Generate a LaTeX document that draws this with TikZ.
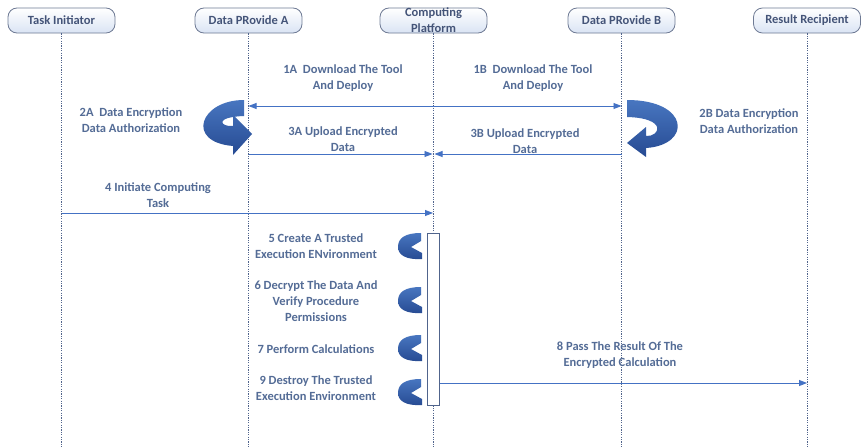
\documentclass[tikz,border=0pt]{standalone}
\usepackage{fontspec}
\setmainfont{Carlito}
\usetikzlibrary{arrows.meta}
\definecolor{linec}{RGB}{68,114,196}
\definecolor{txtc}{RGB}{84,108,150}
\definecolor{hdrtxt}{RGB}{68,84,120}
\definecolor{hdrdraw}{RGB}{110,122,148}
\definecolor{hdrfill}{RGB}{218,228,244}
\definecolor{lifec}{RGB}{80,100,140}
\definecolor{ribtop}{RGB}{72,118,192}
\definecolor{ribbot}{RGB}{38,74,146}
\begin{document}
\begin{tikzpicture}[x=1pt,y=-1pt,
 hdr/.style={draw=hdrdraw, line width=0.8pt, rounded corners=9pt, top color=white, bottom color=hdrfill, minimum width=107pt, minimum height=25pt, font=\fontsize{12.5}{14}\selectfont\bfseries, text=hdrtxt, inner sep=0pt},
 lbl/.style={font=\fontsize{12.5}{16}\selectfont\bfseries, text=txtc, align=center, inner sep=0pt},
 life/.style={draw=lifec, line width=0.8pt, dash pattern=on 1.2pt off 1.2pt},
 msg/.style={draw=linec, line width=0.9pt, -{Triangle[length=8pt,width=6pt]}},
 rib/.style={top color=ribtop, bottom color=ribbot, draw=none},
 stepicon/.pic={\shade[rib] (11,-13) -- (11,-5) -- (1,1) -- (12,7) -- (12,13) .. controls (-4,14) and (-12,9) .. (-12,1) .. controls (-12,-8) and (-5,-13) .. (11,-13) -- cycle;},
]
\useasboundingbox[fill=white] (0,0) rectangle (861,447);
\coordinate (bot) at (0,447);

% headers
\node[hdr] (ti) at (61.5,20.5) {Task Initiator};
\node[hdr] (pa) at (248.5,20.5) {Data PRovide A};
\node[hdr, align=center, font=\fontsize{12.5}{16}\selectfont\bfseries] (cp) at (433.5,20.5) {Computing\\Platform};
\node[hdr] (pb) at (621.5,20.5) {Data PRovide B};
\node[hdr] (rr) at (807,20.5) {Result Recipient};

% lifelines
\draw[life] (ti.south) -- (ti.south |- bot);
\draw[life] (pa.south) -- (pa.south |- bot);
\draw[life] (cp.south) -- (cp.south |- bot);
\draw[life] (pb.south) -- (pb.south |- bot);
\draw[life] (rr.south) -- (rr.south |- bot);

% activation bar
\node[draw=lifec, line width=0.8pt, fill=white, minimum width=12pt, minimum height=172pt, inner sep=0pt] (act) at (433.5,319) {};

% message anchor points
\coordinate (a1) at (248.5,106);
\coordinate (b1) at (621.5,106);
\coordinate (a3) at (248.5,154);
\coordinate (c3a) at (432.5,154);
\coordinate (b3) at (621.5,154);
\coordinate (c3b) at (434.5,154);
\coordinate (t4) at (61.5,213);
\coordinate (c4) at (433,213);
\coordinate (s8) at (439.5,383);
\coordinate (r8) at (807,383);

% messages
\draw[msg, {Triangle[length=8pt,width=6pt]}-{Triangle[length=8pt,width=6pt]}] (a1) -- (b1);
\draw[msg] (a3) -- (c3a);
\draw[msg] (b3) -- (c3b);
\draw[msg] (t4) -- (c4);
\draw[msg] (s8) -- (r8);

% labels
\node[lbl] (l1a) at (343,78) {1A\ \ Download The Tool\\And Deploy};
\node[lbl] (l1b) at (533,78) {1B\ \ Download The Tool\\And Deploy};
\node[lbl] (l2a) at (131,120) {2A\ \ Data Encryption\\Data Authorization};
\node[lbl] (l2b) at (749,121) {2B Data Encryption\\Data Authorization};
\node[lbl] (l3a) at (343,139) {3A Upload Encrypted\\Data};
\node[lbl] (l3b) at (525,141) {3B Upload Encrypted\\Data};
\node[lbl] (l4) at (158,195) {4 Initiate Computing\\Task};
\node[lbl] (l5) at (316,246) {5 Create A Trusted\\Execution ENvironment};
\node[lbl] (l6) at (316,301) {6 Decrypt The Data And\\Verify Procedure\\Permissions};
\node[lbl] (l7) at (316,349) {7 Perform Calculations};
\node[lbl] (l9) at (316,388) {9 Destroy The Trusted\\Execution Environment};
\node[lbl] (l8) at (620,355) {8 Pass The Result Of The\\Encrypted Calculation};

% ribbon arrows
\shade[rib] (244,100) .. controls (200,100) and (185,142) .. (233,146) -- (233,155) -- (252,134) -- (233,115) -- (233,126) .. controls (220,127) and (214,117) .. (244,116) -- cycle;
\shade[rib] (627,100) .. controls (690,100) and (692,145) .. (646,148) -- (646,157) -- (627,143) -- (646,127) -- (646,136) .. controls (660,137) and (668,118) .. (627,117) -- cycle;

% step icons
\pic at (410,246) {stepicon};
\pic at (410,300) {stepicon};
\pic at (410,348) {stepicon};
\pic at (410,392) {stepicon};
\end{tikzpicture}
\end{document}
